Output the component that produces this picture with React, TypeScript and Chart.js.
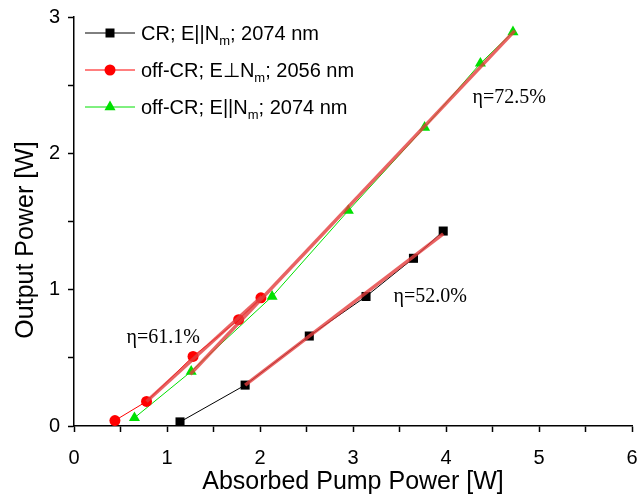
import React, { useEffect, useRef } from 'react';
import { Chart, registerables } from 'chart.js';

Chart.register(...registerables);

// ---- data ----
const crX = [1.14, 1.84, 2.53, 3.14, 3.65, 3.97];
const crY = [0.03, 0.30, 0.66, 0.95, 1.23, 1.43];

const perpX = [0.44, 0.78, 1.28, 1.77, 2.01];
const perpY = [0.04, 0.18, 0.51, 0.78, 0.94];

const parX = [0.65, 1.26, 2.13, 2.95, 3.77, 4.37, 4.72];
const parY = [0.06, 0.40, 0.95, 1.58, 2.19, 2.66, 2.89];

// linear fit segments (end points)
const fit61X = [0.78, 2.02];
const fit61Y = [0.18, 0.95];
const fit72X = [1.25, 4.74];
const fit72Y = [0.38, 2.90];
const fit52X = [1.84, 3.97];
const fit52Y = [0.30, 1.41];

const etaLabels = ['\u03b7=61.1%', '\u03b7=52.0%', '\u03b7=72.5%'];
const etaX = [0.96, 3.83, 4.68];
const etaY = [0.65, 0.95, 2.41];

const legendPre = ['CR; E||N', 'off-CR; E\u22a5N', 'off-CR; E||N'];
const legendSub = ['m', 'm', 'm'];
const legendPost = ['; 2074 nm', '; 2056 nm', '; 2074 nm'];

const xTitle = 'Absorbed Pump Power [W]';
const yTitle = 'Output Power [W]';

const BLACK = '#000000';
const RED = '#ff0000';
const GREEN = '#00e000';
const FIT = 'rgba(228, 60, 60, 0.8)';

const pts = (xs: number[], ys: number[]) => xs.map((x, i) => ({ x, y: ys[i] }));

function drawMarker(ctx: CanvasRenderingContext2D, kind: string, x: number, y: number, color: string) {
  ctx.save();
  ctx.fillStyle = color;
  ctx.beginPath();
  if (kind === 'rect') {
    ctx.rect(x - 4.5, y - 4.5, 9, 9);
  } else if (kind === 'circle') {
    ctx.arc(x, y, 5.5, 0, Math.PI * 2);
  } else {
    const r = 6.4;
    ctx.moveTo(x, y - r);
    ctx.lineTo(x + r * Math.sin(Math.PI / 3), y + r / 2);
    ctx.lineTo(x - r * Math.sin(Math.PI / 3), y + r / 2);
    ctx.closePath();
  }
  ctx.fill();
  ctx.restore();
}

const overlayPlugin = {
  id: 'overlay',
  afterDraw(chart: any) {
    const ctx: CanvasRenderingContext2D = chart.ctx;
    const xs = chart.scales.x;
    const ys = chart.scales.y;
    ctx.save();
    ctx.fillStyle = '#000';

    // eta annotations
    ctx.font = '20px "Liberation Serif", "Times New Roman", serif';
    ctx.textAlign = 'center';
    ctx.textBaseline = 'middle';
    etaLabels.forEach((t, i) => {
      ctx.fillText(t, xs.getPixelForValue(etaX[i]), ys.getPixelForValue(etaY[i]));
    });

    // legend
    const colors = [BLACK, RED, GREEN];
    const markers = ['rect', 'circle', 'triangle'];
    const rowsY = [33, 70, 107];
    legendPre.forEach((pre, i) => {
      const cy = rowsY[i];
      ctx.strokeStyle = colors[i];
      ctx.lineWidth = 1;
      ctx.beginPath();
      ctx.moveTo(85, cy);
      ctx.lineTo(135, cy);
      ctx.stroke();
      drawMarker(ctx, markers[i], 110, cy, colors[i]);
      ctx.fillStyle = '#000';
      ctx.textAlign = 'left';
      ctx.textBaseline = 'alphabetic';
      ctx.font = '20px "Liberation Sans", Arial, sans-serif';
      let x = 141;
      const base = cy + 7;
      ctx.fillText(pre, x, base);
      x += ctx.measureText(pre).width;
      ctx.font = '13px "Liberation Sans", Arial, sans-serif';
      ctx.fillText(legendSub[i], x, base + 5);
      x += ctx.measureText(legendSub[i]).width;
      ctx.font = '20px "Liberation Sans", Arial, sans-serif';
      ctx.fillText(legendPost[i], x, base);
    });

    // axis titles
    ctx.font = '25px "Liberation Sans", Arial, sans-serif';
    ctx.textAlign = 'center';
    ctx.textBaseline = 'middle';
    ctx.fillText(xTitle, (chart.chartArea.left + chart.chartArea.right) / 2, 482);
    ctx.translate(26, 240);
    ctx.rotate(-Math.PI / 2);
    ctx.fillText(yTitle, 0, 0);
    ctx.restore();
  },
};

export default function App() {
  const ref = useRef<HTMLCanvasElement | null>(null);

  useEffect(() => {
    if (!ref.current) return;
    const tickFont = { family: '"Liberation Sans", Arial, sans-serif', size: 20 };
    const chart = new Chart(ref.current, {
      type: 'scatter',
      data: {
        datasets: [
          { label: 'fit61', data: pts(fit61X, fit61Y), showLine: true, borderColor: FIT, borderWidth: 3.5, pointRadius: 0, order: 0 },
          { label: 'fit72', data: pts(fit72X, fit72Y), showLine: true, borderColor: FIT, borderWidth: 3.5, pointRadius: 0, order: 0 },
          { label: 'fit52', data: pts(fit52X, fit52Y), showLine: true, borderColor: FIT, borderWidth: 3.5, pointRadius: 0, order: 0 },
          { label: 'CR', data: pts(crX, crY), showLine: true, borderColor: BLACK, borderWidth: 1, backgroundColor: BLACK, pointBackgroundColor: BLACK, pointBorderColor: BLACK, pointStyle: 'rect', pointRadius: 6.4, pointBorderWidth: 0, order: 1 },
          { label: 'perp', data: pts(perpX, perpY), showLine: true, borderColor: RED, borderWidth: 1, backgroundColor: RED, pointBackgroundColor: RED, pointBorderColor: RED, pointStyle: 'circle', pointRadius: 5.5, pointBorderWidth: 0, order: 1 },
          { label: 'par', data: pts(parX, parY), showLine: true, borderColor: GREEN, borderWidth: 1, backgroundColor: GREEN, pointBackgroundColor: GREEN, pointBorderColor: GREEN, pointStyle: 'triangle', pointRadius: 6.4, pointBorderWidth: 0, order: 1 },
        ],
      },
      options: {
        animation: false,
        responsive: false,
        maintainAspectRatio: false,
        layout: { padding: { top: 17, right: 11, left: 0, bottom: 0 } },
        plugins: { legend: { display: false }, tooltip: { enabled: false }, title: { display: false } },
        scales: {
          x: {
            type: 'linear',
            min: 0,
            max: 6,
            afterFit: (s: any) => { s.height = 70; s.paddingLeft = 0; s.paddingRight = 0; },
            border: { display: true, color: '#000', width: 1.5 },
            grid: { display: true, drawOnChartArea: false, drawTicks: true, tickLength: 6, tickColor: '#000', tickWidth: 1.5 },
            ticks: {
              stepSize: 0.5,
              autoSkip: false,
              maxRotation: 0,
              padding: 14,
              color: '#000',
              font: tickFont,
              callback: (v: any) => (Number(v) % 1 === 0 ? String(v) : ''),
            },
          },
          y: {
            type: 'linear',
            min: 0,
            max: 3,
            afterFit: (s: any) => { s.width = 74; s.paddingTop = 0; s.paddingBottom = 0; },
            border: { display: true, color: '#000', width: 1.5 },
            grid: { display: true, drawOnChartArea: false, drawTicks: true, tickLength: 6, tickColor: '#000', tickWidth: 1.5 },
            ticks: {
              stepSize: 0.5,
              autoSkip: false,
              padding: 8,
              color: '#000',
              font: tickFont,
              callback: (v: any) => (Number(v) % 1 === 0 ? String(v) : ''),
            },
          },
        },
      },
      plugins: [overlayPlugin],
    } as any);
    return () => chart.destroy();
  }, []);

  return (
    <div style={{ position: 'fixed', left: 0, top: 0, width: 643, height: 496, background: '#fff' }}>
      <canvas ref={ref} width={643} height={496} style={{ display: 'block' }} />
    </div>
  );
}
